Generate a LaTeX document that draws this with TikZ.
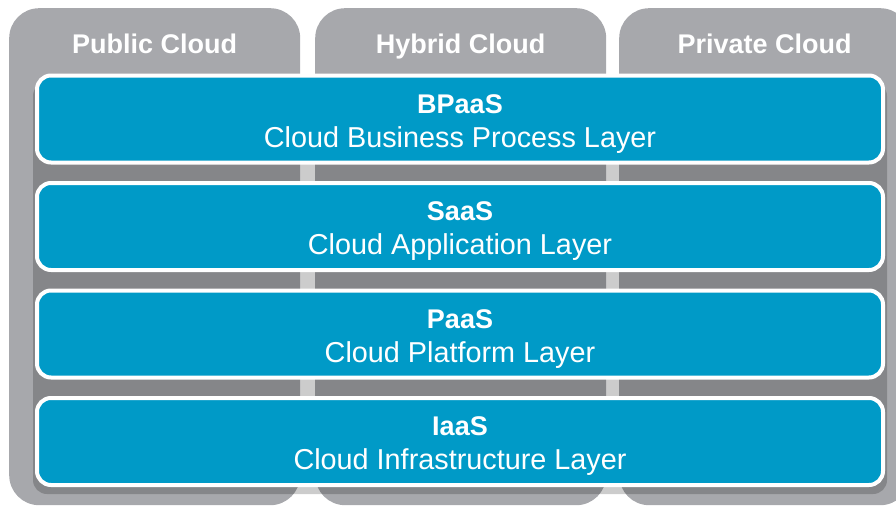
\documentclass[tikz,border=0pt]{standalone}
\usepackage{fontspec}
\setmainfont{Liberation Sans}
\usepackage{xcolor}
\usetikzlibrary{positioning,calc}

\definecolor{cloudgrey}{RGB}{167,168,172}
\definecolor{layerblue}{RGB}{0,154,199}

\begin{document}
\begin{tikzpicture}[x=1pt, y=-1pt,
column/.style={fill=cloudgrey, rounded corners=30pt, minimum width=291pt, minimum height=497pt, anchor=north west, inner sep=0pt},
colname/.style={text=white, font=\fontsize{27}{32}\selectfont\bfseries, anchor=base},
layer/.style={fill=layerblue, draw=white, line width=4pt, rounded corners=14pt, minimum width=846pt, minimum height=87pt, inner sep=0pt},
laytitle/.style={text=white, font=\fontsize{27}{32}\selectfont\bfseries, anchor=base},
layname/.style={text=white, font=\fontsize{28.8}{32}\selectfont, anchor=base}]

\useasboundingbox (0,0) rectangle (896,506);
\clip (0,0) rectangle (896,506);

% cloud columns
\node[column] (public)  at (9,8)   {};
\node[column] (hybrid)  at (315,8) {};
\node[column] (private) at (619,8) {};

\node[colname] (publicname)  at ($(public.north)+(0,45)$)  {Public Cloud};
\node[colname] (hybridname)  at ($(hybrid.north)+(0,45)$)  {Hybrid Cloud};
\node[colname] (privatename) at ($(private.north)+(0,45)$) {Private Cloud};

% shadow under the layers
\fill[black, opacity=0.2, rounded corners=14pt] (33,82) rectangle (887,494);

% service layers
\node[layer] (bpaas) at (460,119)   {};
\node[layer] (saas)  at (460,226.5) {};
\node[layer] (paas)  at (460,334)   {};
\node[layer] (iaas)  at (460,441.5) {};

\node[laytitle] (bpaastitle) at ($(bpaas.center)+(0,-6)$) {BPaaS};
\node[layname]  (bpaasname)  at ($(bpaas.center)+(0,28)$) {Cloud Business Process Layer};
\node[laytitle] (saastitle)  at ($(saas.center)+(0,-6)$)  {SaaS};
\node[layname]  (saasname)   at ($(saas.center)+(0,28)$)  {Cloud Application Layer};
\node[laytitle] (paastitle)  at ($(paas.center)+(0,-6)$)  {PaaS};
\node[layname]  (paasname)   at ($(paas.center)+(0,28)$)  {Cloud Platform Layer};
\node[laytitle] (iaastitle)  at ($(iaas.center)+(0,-6)$)  {IaaS};
\node[layname]  (iaasname)   at ($(iaas.center)+(0,28)$)  {Cloud Infrastructure Layer};

\end{tikzpicture}
\end{document}
